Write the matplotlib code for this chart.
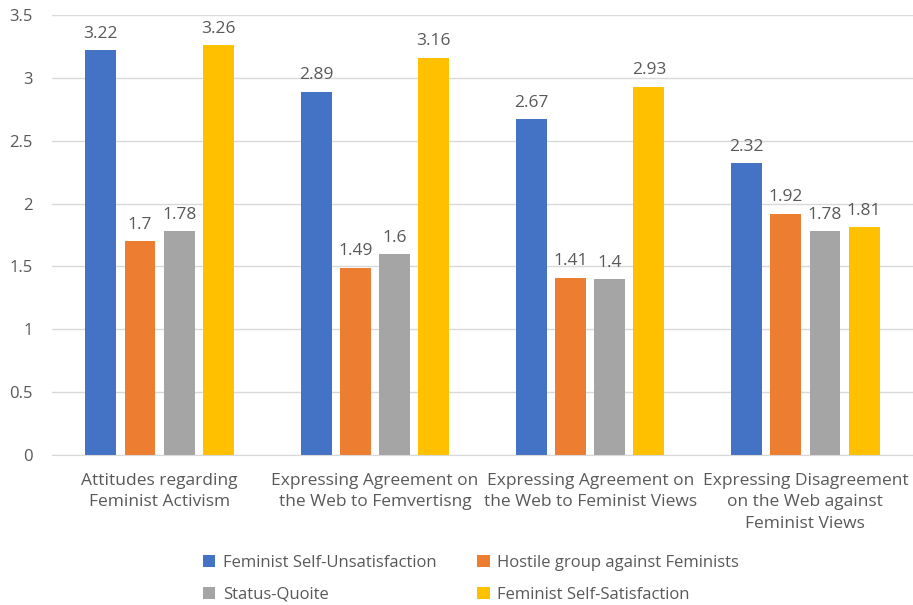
import matplotlib
matplotlib.use("Agg")
import matplotlib.pyplot as plt
import numpy as np

categories = [
    "Attitudes regarding\nFeminist Activism",
    "Expressing Agreement on\nthe Web to Femvertisng",
    "Expressing Agreement on\nthe Web to Feminist Views",
    "Expressing Disagreement\non the Web against\nFeminist Views",
]
series_names = [
    "Feminist Self-Unsatisfaction",
    "Hostile group against Feminists",
    "Status-Quoite",
    "Feminist Self-Satisfaction",
]
unsatisfaction = [3.22, 2.89, 2.67, 2.32]
hostile = [1.70, 1.49, 1.41, 1.92]
status_quo = [1.78, 1.60, 1.40, 1.78]
satisfaction = [3.26, 3.16, 2.93, 1.81]
label_texts = [
    ["3.22", "2.89", "2.67", "2.32"],
    ["1.7", "1.49", "1.41", "1.92"],
    ["1.78", "1.6", "1.4", "1.78"],
    ["3.26", "3.16", "2.93", "1.81"],
]
y_ticks = [0, 0.5, 1, 1.5, 2, 2.5, 3, 3.5]
y_tick_labels = ["0", "0.5", "1", "1.5", "2", "2.5", "3", "3.5"]

colors = ["#4472C4", "#ED7D31", "#A5A5A5", "#FFC000"]
text_color = "#595959"

plt.rcParams["font.family"] = ["Open Sans", "DejaVu Sans"]

fig = plt.figure(figsize=(9.13, 6.05), dpi=100)
ax = fig.add_axes([52 / 913, 1 - 455 / 605, 1 - 52 / 913, 440 / 605])

values = [unsatisfaction, hostile, status_quo, satisfaction]
x = np.arange(len(categories))
step = 0.182
width = 0.1435
for i, (vals, name, col) in enumerate(zip(values, series_names, colors)):
    pos = x + (i - 1.5) * step
    bars = ax.bar(pos, vals, width=width, color=col, label=name, zorder=3)
    for b, t in zip(bars, label_texts[i]):
        ax.annotate(t, (b.get_x() + b.get_width() / 2, b.get_height()),
                    xytext=(0, 6), textcoords="offset points",
                    ha="center", va="bottom", fontsize=12.5, color=text_color)

ax.set_xlim(-0.5, len(categories) - 0.5)
ax.set_ylim(0, 3.5)
ax.set_yticks(y_ticks)
ax.set_yticklabels(y_tick_labels)
ax.set_xticks(x)
ax.set_xticklabels(categories, linespacing=1.45)
ax.tick_params(axis="both", length=0, labelsize=12.5, colors=text_color)
ax.tick_params(axis="x", pad=13)
ax.tick_params(axis="y", labelsize=12, pad=14)
ax.grid(axis="y", color="#D9D9D9", linewidth=1, zorder=0)
for s in ["top", "right", "left"]:
    ax.spines[s].set_visible(False)
ax.spines["bottom"].set_color("#D9D9D9")
ax.spines["bottom"].set_zorder(4)

handles, labels = ax.get_legend_handles_labels()
order = [0, 2, 1, 3]
leg = fig.legend([handles[k] for k in order], [labels[k] for k in order],
                 ncol=2, loc="center", bbox_to_anchor=(471 / 913, 1 - 579 / 605),
                 frameon=False, fontsize=12, handlelength=0.75, handleheight=0.75,
                 handletextpad=0.45, columnspacing=2.45, labelspacing=0.95)
for t in leg.get_texts():
    t.set_color(text_color)

fig.savefig("out.png", dpi=100)
